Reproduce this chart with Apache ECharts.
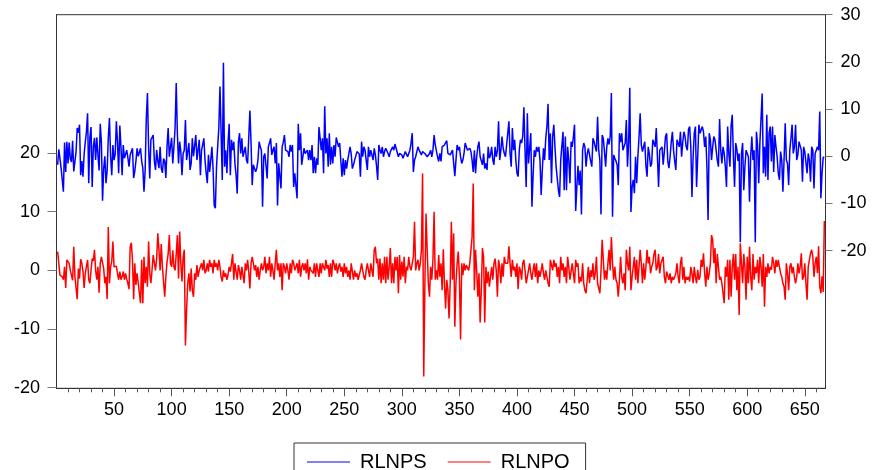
<!DOCTYPE html>
<html>
<head>
<meta charset="utf-8">
<script src="https://cdn.jsdelivr.net/npm/echarts@6/dist/echarts.min.js"></script>
<style>
html,body{margin:0;padding:0;background:#fff;}
#chart{width:874px;height:470px;}
</style>
</head>
<body>
<div id="chart"></div>
<script>
// Series names
const seriesNames = ['RLNPS', 'RLNPO'];

// RLNPS (right axis), observations 1..667
const rlnps = [
-1.8,1.5,-0.5,-2.5,-5,-7.5,2.9,-3.3,3.1,-1.5,
2.9,-0.5,-1.2,3.3,-3.2,-2.8,1,6,5,6.7,
-4,-1,-4.3,0.5,3,5.2,9.1,-5.7,4,6.2,
-6.5,2,3.9,-0.8,4,0.3,-3,6.9,3,-9.4,
-2.5,0,-5.7,-3,3.9,8.1,0,-4,2.4,-0.8,
0.5,7.4,3,-3.6,6.5,2,-4,2.4,-0.4,-0.5,
1.3,-0.3,-2.2,0.3,-0.1,1.7,-4.6,-3.2,-1,1.7,
0,-0.3,1.7,-1,-2.5,-7.5,-3,8,13.4,2,
-4.7,3.5,3.1,4.5,-1,-2.9,1.3,-1,-2.5,2,
-2.5,-3.5,-0.5,-1,-4.6,2,6,-0.1,2,3.9,
-1.5,2,6,15.5,4.9,-1.5,3.1,1,-4,0.6,
1.3,7.7,-0.8,-0.8,2.8,-2.9,-1.5,3.8,0,-0.1,
4.5,-0.8,-0.8,3.5,-4,1.3,2.5,3.8,-0.8,-3.5,
-5.7,0.3,-3.3,-0.8,2,-2.6,-10.4,-11,-2.2,2,
6,14.8,4.9,-5,19.8,-2.2,1.3,-3.6,3,6.9,
-4,3.5,1.3,3.1,-1.5,-4,-7.9,3,4.9,0.6,
3.8,-0.1,-0.1,2,-0.8,-1.5,4,9.7,2.8,-6.1,
-1.8,-1.8,-3.3,-2.5,-0.8,3.1,2,1.3,-10.7,-0.1,
0.6,0.6,-4.7,2,2.8,3.8,0.3,1.3,2,-1.5,
2.8,-10.4,-1.5,-1.5,-6.8,2,3,4.5,1.3,1,
1,-0.1,2.4,1,2.4,-6.5,-3.6,-3.6,-8.9,6.9,
1.3,4.9,-1.8,-1.8,1.7,0.6,0.6,1.3,-0.8,1.3,
-0.8,2.4,-3.6,-0.1,-3.6,-0.4,-1.8,6.2,3.8,1.3,
3.8,-3.6,10.6,0.6,3.8,-2.2,4.9,-1.8,2,-1.5,
2.4,-0.1,4,3,2,2.8,-1,-4.3,-0.4,-4,
-0.8,-2.6,-0.8,0.6,2,0.5,-2.6,-1.8,-0.8,-0.8,
1,1.3,0.5,-4.3,3.1,-0.1,2,1.3,-0.8,-2.9,
2,-0.1,1.3,0.3,-0.8,1.7,0.3,-2,-5,2.4,
1.3,0.6,2,-0.1,1,1.7,1.3,0.6,-0.1,1,
1.3,2,1.3,2.6,1.7,1.3,-0.1,0.6,1,0.3,
-0.4,-0.8,1,0.6,-0.1,-0.4,1.3,2.8,4.9,-3.3,
-0.8,-0.1,1,2,1.3,1.3,0.3,1,1.3,0.6,
0.3,-0.1,-0.4,0.6,1.3,-0.1,1.3,4.5,2.4,2,
-0.1,-1.1,0.6,-1.1,2,2.4,2.4,2.8,3.3,0.6,
0.3,0.3,0.6,1.3,1.7,-4.2,-0.8,2.4,1.3,2,
-0.1,-1.5,-0.8,0.6,2.8,2,1.3,1.3,1.7,1,
-0.8,-3.3,1.3,-3.6,-0.1,2,3.1,-0.1,-0.4,-1.8,
0.6,-2.6,-1.5,-2.9,2,-0.4,0.3,2,-0.8,-1.8,
2,-0.1,1.3,7.4,-0.8,1.3,4.2,1.7,0.6,-0.1,
-0.1,4.9,7.4,0.6,-2.2,6,1.3,3.5,-0.8,-3.6,
-4.3,1.3,3.5,2.8,4.2,10.4,1.3,-6.5,9.1,-1.5,
-1.5,4.9,-10.7,-4,1.3,-0.1,2,1,2,-0.8,
-8.2,-3,1.7,-0.8,3.8,6.3,11.1,-0.8,4.9,-5.7,
4.2,6.7,2,-2.2,-2.2,-7.2,-8.6,-0.8,-0.8,5.2,
-7.2,4.2,-7.2,2,-0.8,-5.7,3.1,2,4.2,6.7,
-11.6,-6.5,-2,-6.1,-3,-12.3,1.3,2.8,2,-2.2,
0.5,1.7,1.3,-1,-2.2,3.8,3.1,2,1,8.4,
1.3,-0.8,-12.3,4.5,3.8,1,-2.2,2,3.8,2.5,
4.2,13.4,-12.8,0.3,-0.4,-1,-1.8,-6.1,4.9,3,
4.9,1.3,1.5,2.8,7.7,-2.2,3,14.5,-11.8,-6.5,
-5,-7.8,-0.1,-5.7,-0.1,4,9.1,2.4,1,0.6,
3.1,-2,-4.3,2,0.5,-2.2,-1.5,3.5,3.8,2,
6,-0.1,-6.5,1.3,1,2,-1.8,1,4.2,4.9,
-1,-2.5,-0.1,3,5.2,1.3,-1,-2.9,3.5,3.1,
2,5.2,-0.1,3,5.2,4.2,2,1.3,5.7,6.3,
2,-8.6,-0.1,4.9,6.3,-6.5,-0.1,6.7,4.9,5.6,
6.3,5.2,2,4.2,-2.2,-13.5,4.9,3.5,-0.8,2,
4.2,3.5,1.3,-0.8,-2.2,7.9,1.3,-1.5,2,0.6,
-2.2,-6.5,6.3,0.6,-2.2,6.5,8.8,-0.1,-6.5,2.8,
1.5,-1,0.6,-18.2,0.6,2.8,-7.2,-2.2,1.3,1,
-0.1,-9.6,-0.1,4.2,-0.8,1.3,-18.2,5.2,2.4,-5.7,
2.8,2.4,13.3,-3.6,2,-4.3,8.8,-5,4.9,6.3,
-1.1,6.3,-3.3,4.5,2,-0.1,-3.6,-5,1,-0.8,
-7.5,-0.8,7,-0.8,-1.5,-6.1,1.3,3.8,6.7,0.6,
2,6.7,-0.8,0.3,3.1,2.8,1.3,-5.4,2,1,
0.6,-3.6,0.6,-0.8,-5.4,2,1.3,-6.8,0.6,1.3,
2,1.3,9.5,-8.9,-3.6,-0.2,-0.2
];

// RLNPO (left axis), observations 1..667
const rlnpo = [
3.2,1.2,-0.8,-0.9,-1.1,-1.6,0.6,-3,1.8,2,
1.2,0,0.3,-1.7,4,-1.1,-1.4,-4.9,0.3,-1.4,
1.9,1.2,-0.2,-3,-0.5,-0.5,1.8,-1.6,-2.2,0,
2,1.6,3.5,0,-1.6,0.6,-3.8,1.2,2.3,2.6,
0.3,-2.2,-1.1,-4.9,7.4,-2.2,0.6,1.5,4.9,0.6,
0.6,0.7,-0.5,-1.6,-0.2,-1.6,-1.1,-0.2,-1.6,-0.5,
-1.5,-2.2,-3.2,4,4.7,1.8,-4.9,1.2,-2.5,-0.5,
-2.2,-2,-5.6,1.8,-5.6,2.3,-2.2,0.6,-2.8,4.9,
-0.5,-2.2,0.1,2.6,2.3,0,2,6.3,3.5,0,
4.5,0.6,-2,-4.5,-1.1,1.4,2.8,6,1.2,0.6,
3.4,0.6,0,2.8,6,-1.4,6.6,1.2,-1.9,2.3,
3.5,-12.8,-6.8,-2.2,-0.5,-3.6,0.3,-3.4,-4.5,-0.5,
-1.6,0.9,-1.1,0,0.6,1.2,0,1.8,-0.5,0,
1.2,-0.2,1.8,0.6,1.2,-0.5,1.8,0.6,1.2,0,
1.8,0.6,-1.1,-1.9,0,-1.1,-0.5,-1.6,-0.8,0.6,
-0.2,1.2,2.8,-1.6,1.2,-0.2,-1.6,0.9,0,-1.6,
0.6,0.6,-2.2,1.2,0,1.8,-0.2,-3.1,1.2,2.3,
1.2,0,0.9,-1.1,0.6,-1.6,0,1.2,0,0.6,
2.3,-0.5,1.2,0,2.3,-1.1,1.2,0,-1.6,1.2,
3.5,0,1.2,-1.1,1.2,-3.4,1.2,0.6,-0.5,1.2,
0,-1.6,1.2,-0.5,1.8,1.2,0,0.6,1.2,-0.5,
1.8,-1.1,0.6,1.2,0,1.2,-0.5,1.9,-1.6,0.6,
0,0.3,-0.5,1.2,-1.1,1.2,0,-1.1,1.2,-0.5,
1.2,1.5,0,1.8,0.3,0.9,-1.1,1.2,-1.1,1.8,
1.2,0,1.2,-0.5,0.6,1.2,-0.2,0.6,-1.1,1.2,
-0.5,0.6,-1.1,0,-1.6,1.2,1.5,-1.6,0,-1.1,
-0.5,-1.6,-0.8,0,1.2,0,-1.1,-1.6,0,1.2,
0,-1.1,1.2,0,-1.1,3.5,4,1.2,2,-1.6,
2,-2.2,1.2,-1.6,2.3,-2.2,2.3,-1.6,0.6,3.8,
-2.2,1.2,-2.2,2.3,0,2.3,-3.9,2.6,-1.6,1.5,
-1.1,2.3,-2.2,0.6,0,2.3,0.6,0,1.2,2.3,
8.3,0,1.2,1.8,0,1.2,3.5,16.5,-18.1,-2.2,
9.7,3.5,-2.2,-4.5,0.6,-1.6,1.8,10,-1.6,0,
-1.6,2.6,-1.1,1.2,-3.4,3.6,-2.2,-6.5,-1.6,-3.4,
-8.2,-2.2,8.3,-1.6,6.3,-9.6,-2.2,1.2,3.2,-1.1,
-11.8,1.2,-0.8,1.2,0,0.9,0.6,0,1.2,1.2,
5.7,14.8,-3.4,3.5,0,-4.5,-0.5,-8.9,-3.4,3.8,
2.3,-8.9,0.6,-2.2,-0.2,-2.8,-1.1,0.6,-1.6,1.2,
2,0,-4.5,1.8,0.6,-2.2,1.2,-1.1,2.3,1.2,
1.5,1.2,4.1,1.2,-1.1,1.8,0,0.6,-1.1,1.2,
-3.2,0.6,0,-1.6,1.2,1.8,0,-2.2,-1.1,0,
1.2,-0.5,-1.6,0,1.2,-1.1,1.2,-2.2,0,-1.1,
0,1.2,-0.5,-1.6,0,-1.1,-2.2,-2.8,1.8,2,
0,1.8,0.6,1.2,-1.1,0.6,-2.2,2.3,0,1.2,
-1.1,0.6,-2.2,2.3,0.6,-1.6,-1.6,1.2,-0.5,-2.2,
1.8,0.6,1.2,-2.2,-1.1,-1.9,1.2,-2.2,-3.4,-3.9,
-1.6,0.6,-2.2,0,-1.1,1.2,-1.6,-0.5,2.3,-2.2,
-2.2,-3.9,0,5.2,1.8,-1.6,0,-1.6,1.2,3.5,
0,5.7,1.2,-1.6,0.6,-1.6,-2.2,-4.5,-1.6,2.3,
-1.1,-2.2,-0.5,-3.4,3.5,1.2,0,4,-3.4,-1.1,
0.6,2.3,-1.6,1.8,-2.2,0.6,3.5,1.2,-2.2,1.2,
-1.6,0.6,3.5,1.2,2.3,-0.5,0.6,1.2,2.8,3.5,
0,0.6,2.8,-0.5,1.2,1.2,2.3,-1.1,-2.2,-0.2,
0,-1.6,-0.5,-2.2,-1.1,-1.6,-1.1,-0.5,1.2,-1.1,
-2.2,1.2,2.3,-1.6,0.6,-2.2,-1.1,-1.6,-1.1,-1.9,
0.6,-0.5,-2.2,0.6,-1.1,-2.2,0.1,-1.6,-1.1,1.8,
0.6,2.9,-0.5,-2.8,0.6,-1.6,-0.5,1.2,6,5.2,
1.2,3.8,-2.2,2.8,0.6,-1.6,-1.1,-2.2,-3.9,-5.6,
0.6,-1.1,1.8,-5,1.8,-4.5,0.6,2.8,-1.6,2.8,
-3.4,0.6,-7.6,4.6,1.2,-2.2,2.8,0.6,-5,2.3,
-2.2,4,-1.1,-3.4,2.8,-1.6,0.6,-0.5,1.8,-2.2,
2.3,0.6,-2.8,2.8,-6.2,0.6,-1.1,1.2,-0.5,0.6,
0.1,2.3,1.2,-0.5,1.8,0.6,1.8,0.6,-0.5,-1.1,
-2.2,-2.8,-5,1.2,-0.5,-3.4,0.6,1.2,-0.5,0.6,
-1.1,-2.2,-1.1,1.2,-0.5,0.6,2.9,-1.6,-1.1,1.2,
-2.2,-5,0.6,1.8,2.9,3.5,2.3,-1.1,1.2,2.3,
-0.5,4.1,-2.8,-3.9,-1,-3.7,8.4
];

// Tick labels
const xTickLabels = [50,100,150,200,250,300,350,400,450,500,550,600,650];
const xMinorTicks = [10,20,30,40,60,70,80,90,110,120,130,140,160,170,180,190,210,220,230,240,260,270,280,290,310,320,330,340,360,370,380,390,410,420,430,440,460,470,480,490,510,520,530,540,560,570,580,590,610,620,630,640,660];
const leftTickLabels = [-20,-10,0,10,20];
const rightTickLabels = [-20,-10,0,10,20,30];

const toPairs = arr => arr.map((v, i) => [i + 1, v]);

const FONT = '"Liberation Sans", Arial, sans-serif';
const chart = echarts.init(document.getElementById('chart'), null, {renderer: 'canvas'});

chart.setOption({
  animation: false,
  backgroundColor: '#ffffff',
  grid: {
    left: 56.5, right: 48.5, top: 14.7, bottom: 81.7,
    show: true, borderColor: '#333', borderWidth: 1,
    containLabel: false, outerBoundsMode: 'none'
  },
  legend: {
    data: seriesNames,
    left: 294, top: 443,
    orient: 'horizontal',
    padding: [9, 16, 24, 13],
    itemWidth: 43, itemHeight: 14, itemGap: 21,
    borderColor: '#333', borderWidth: 1,
    icon: 'path://M0,6.5 L43,6.5 L43,7.5 L0,7.5 Z',
    textStyle: {fontFamily: FONT, fontSize: 20, color: '#000', padding: [0, 0, 0, 5]}
  },
  xAxis: [{
    type: 'value', min: 0, max: 668, position: 'bottom', offset: 0,
    axisLine: {show: true, onZero: false, lineStyle: {color: '#333', width: 1}},
    axisTick: {show: true, inside: false, length: 8, customValues: xTickLabels, lineStyle: {color: '#555'}},
    axisLabel: {show: true, customValues: xTickLabels, margin: 13, fontFamily: FONT, fontSize: 18, color: '#000'},
    splitLine: {show: false}
  }, {
    type: 'value', min: 0, max: 668, position: 'bottom', offset: 0,
    axisLine: {show: false, onZero: false},
    axisTick: {show: true, inside: false, length: 4, customValues: xMinorTicks, lineStyle: {color: '#555'}},
    axisLabel: {show: false},
    splitLine: {show: false}
  }],
  yAxis: [{
    type: 'value', min: -20.1, max: 43.57, position: 'left',
    axisLine: {show: true, onZero: false, lineStyle: {color: '#333', width: 1}},
    axisTick: {show: true, inside: false, length: 9, customValues: leftTickLabels, lineStyle: {color: '#777'}},
    axisLabel: {show: true, customValues: leftTickLabels, margin: 16.5, fontFamily: FONT, fontSize: 18, color: '#000'},
    splitLine: {show: false}
  }, {
    type: 'value', min: -49.15, max: 30, position: 'right',
    axisLine: {show: true, onZero: false, lineStyle: {color: '#333', width: 1}},
    axisTick: {show: true, inside: false, length: 7, customValues: rightTickLabels, lineStyle: {color: '#777'}},
    axisLabel: {show: true, customValues: rightTickLabels, margin: 15, fontFamily: FONT, fontSize: 18, color: '#000'},
    splitLine: {show: false}
  }],
  series: [{
    name: seriesNames[0], type: 'line', xAxisIndex: 0, yAxisIndex: 1,
    data: toPairs(rlnps), symbol: 'none', showSymbol: false,
    lineStyle: {color: '#0000ff', width: 1.5}, itemStyle: {color: '#0000ff'}
  }, {
    name: seriesNames[1], type: 'line', xAxisIndex: 0, yAxisIndex: 0,
    data: toPairs(rlnpo), symbol: 'none', showSymbol: false,
    lineStyle: {color: '#ff0000', width: 1.5}, itemStyle: {color: '#ff0000'}
  }]
});
</script>
</body>
</html>
